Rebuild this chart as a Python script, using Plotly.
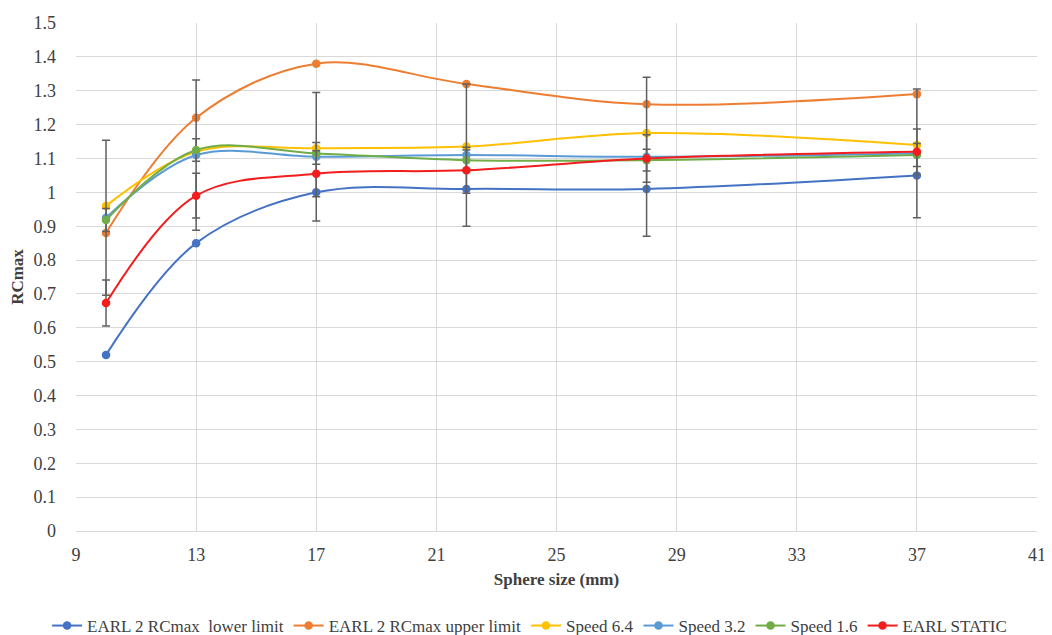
import plotly.graph_objects as go

sphere_size = [10, 13, 17, 22, 28, 37]

earl_lower = [0.52, 0.85, 1.00, 1.01, 1.01, 1.05]
earl_upper = [0.88, 1.22, 1.38, 1.32, 1.26, 1.29]
speed_64 = [0.96, 1.12, 1.13, 1.135, 1.175, 1.14]
speed_32 = [0.925, 1.11, 1.105, 1.11, 1.105, 1.115]
speed_16 = [0.918, 1.125, 1.115, 1.095, 1.095, 1.11]
earl_static = [0.673, 0.99, 1.055, 1.065, 1.10, 1.12]

err_32 = [0.229, 0.222, 0.19, 0.21, 0.235, 0.19]
err_16 = [0.034, 0.033, 0.032, 0.03, 0.032, 0.034]
err_static = [0.068, 0.066, 0.068, 0.068, 0.07, 0.067]

names = ["EARL 2 RCmax  lower limit", "EARL 2 RCmax upper limit", "Speed 6.4",
         "Speed 3.2", "Speed 1.6", "EARL STATIC"]
colors = ["#4472C4", "#ED7D31", "#FFC000", "#5B9BD5", "#70AD47", "#F21D1D"]
series = [earl_lower, earl_upper, speed_64, speed_32, speed_16, earl_static]
errors = [None, None, None, err_32, err_16, err_static]

fig = go.Figure()
for name, col, vals, err in zip(names, colors, series, errors):
    kw = {}
    if err is not None:
        kw["error_y"] = dict(type="data", array=err, visible=True,
                             color="#5f5f5f", thickness=1.5, width=4)
    fig.add_trace(go.Scatter(
        x=sphere_size, y=vals, name=name, mode="lines+markers",
        line=dict(color=col, width=2, shape="spline", smoothing=1),
        marker=dict(color=col, size=8.5),
        **kw))

font_family = "Liberation Serif"
fig.update_layout(
    width=1044, height=627,
    margin=dict(l=68, r=15, t=15, b=104, autoexpand=False),
    paper_bgcolor="white", plot_bgcolor="white",
    font=dict(family=font_family, size=18, color="#404040"),
    showlegend=True,
    legend=dict(orientation="h", x=0.472, xanchor="center", y=-0.187,
                yanchor="middle",
                font=dict(family=font_family, size=17, color="#404040"),
                itemwidth=30, tracegroupgap=0),
    xaxis=dict(range=[9, 41], dtick=4, tick0=9, showgrid=True,
               gridcolor="#D9D9D9", gridwidth=1, zeroline=False,
               showline=False, ticks="", automargin=False,
               ticklabelstandoff=11,
               title=dict(text="<b>Sphere size (mm)</b>", standoff=9,
                          font=dict(family=font_family, size=17, color="#404040"))),
    yaxis=dict(range=[0, 1.5], dtick=0.1, showgrid=True,
               gridcolor="#D9D9D9", gridwidth=1, zeroline=True,
               zerolinecolor="#D9D9D9", zerolinewidth=1, showline=False,
               ticks="", automargin=False, ticklabelstandoff=19,
               title=dict(text="<b>RCmax</b>", standoff=9,
                          font=dict(family=font_family, size=17, color="#404040"))),
)

fig.write_html("out.html")
